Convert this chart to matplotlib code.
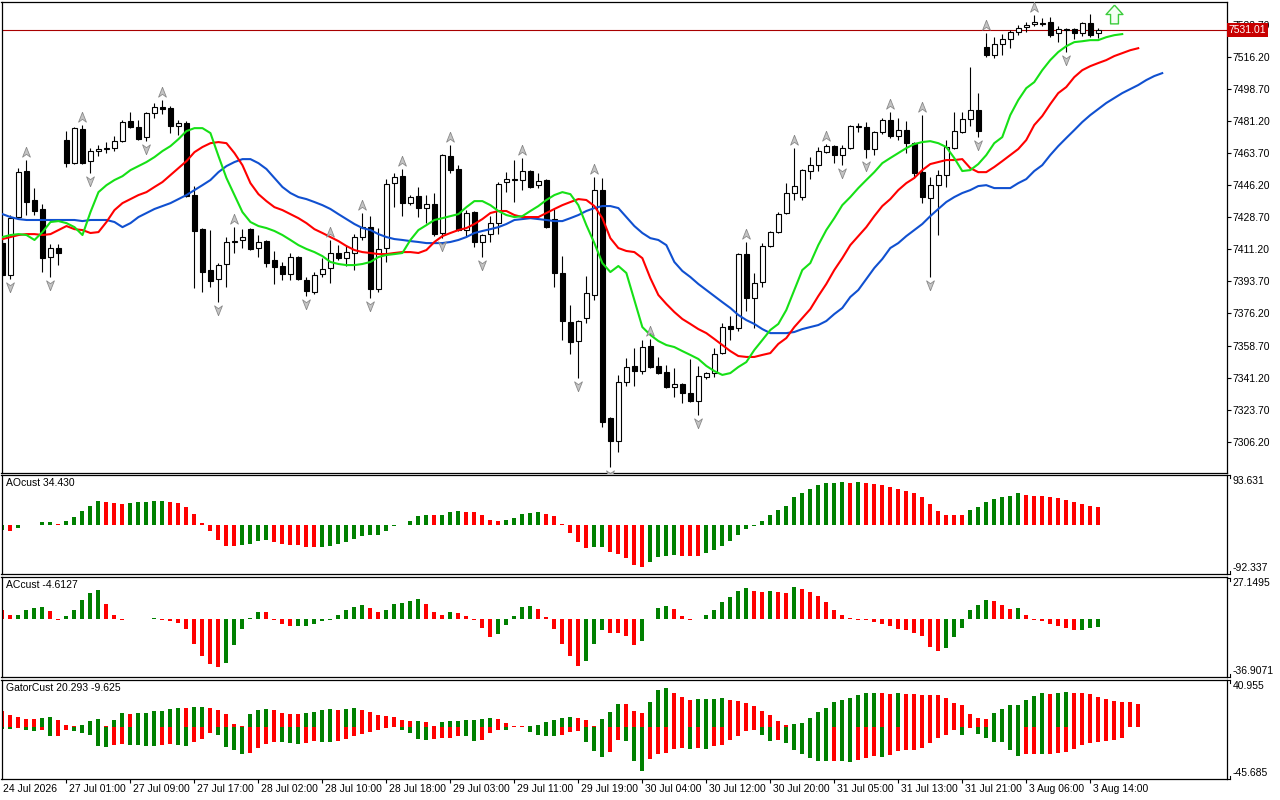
import numpy as np
import matplotlib.pyplot as plt
from matplotlib.path import Path

plt.rcParams['font.family'] = ['Liberation Sans', 'DejaVu Sans']

# hourly candles, 24 Jul 16:00 .. 3 Aug 15:00
opens = [7414.6, 7397.2, 7428.8, 7453.9, 7438.1, 7433.2, 7407.0, 7411.9, 7470.8, 7458.2,
         7476.8, 7459.3, 7464.8, 7465.9, 7466.4, 7470.2, 7481.1, 7477.9, 7472.4, 7485.5,
         7488.8, 7488.2, 7478.4, 7480.0, 7440.8, 7422.2, 7399.9, 7395.0, 7403.2, 7415.2,
         7416.3, 7422.2, 7411.9, 7415.7, 7405.4, 7402.1, 7397.7, 7407.0, 7394.5, 7387.9,
         7397.7, 7401.0, 7409.2, 7406.4, 7409.2, 7417.9, 7423.3, 7389.5, 7411.9, 7447.3,
         7451.1, 7436.4, 7440.2, 7433.7, 7435.9, 7420.1, 7462.1, 7455.0, 7421.7, 7431.5,
         7415.2, 7419.5, 7425.5, 7447.9, 7449.0, 7449.0, 7453.9, 7446.2, 7449.0, 7428.0,
         7398.3, 7371.5, 7361.2, 7373.7, 7386.3, 7443.5, 7319.2, 7306.7, 7338.8, 7347.6,
         7344.8, 7358.5, 7347.6, 7344.3, 7336.1, 7337.7, 7332.8, 7328.5, 7341.6, 7343.7,
         7354.6, 7369.4, 7368.3, 7408.6, 7384.6, 7393.4, 7413.0, 7420.6, 7431.0, 7441.9,
         7439.7, 7453.9, 7457.1, 7464.2, 7467.5, 7462.6, 7466.4, 7477.8, 7477.9, 7465.9,
         7475.1, 7481.7, 7473.0, 7476.2, 7469.1, 7453.3, 7439.2, 7446.2, 7451.7, 7466.4,
         7475.1, 7482.2, 7487.1, 7521.5, 7517.1, 7523.1, 7525.8, 7529.7, 7532.4, 7534.0,
         7534.6, 7535.1, 7529.1, 7531.3, 7531.3, 7529.1, 7534.6, 7529.1]
highs = [7416.3, 7429.9, 7455.5, 7459.9, 7444.6, 7435.9, 7414.1, 7414.1, 7475.7, 7477.9,
         7479.0, 7466.4, 7468.0, 7469.7, 7473.0, 7481.7, 7486.0, 7481.7, 7486.0, 7491.0,
         7492.6, 7489.3, 7481.7, 7481.1, 7445.7, 7422.8, 7421.7, 7403.7, 7417.9, 7423.3,
         7422.2, 7422.8, 7419.0, 7416.3, 7410.3, 7404.3, 7409.2, 7407.5, 7396.1, 7398.8,
         7406.4, 7416.3, 7413.5, 7413.5, 7419.5, 7431.0, 7429.3, 7422.8, 7449.5, 7452.8,
         7455.0, 7440.8, 7445.2, 7440.8, 7441.9, 7463.1, 7468.0, 7457.1, 7432.6, 7432.1,
         7419.5, 7429.3, 7447.9, 7453.3, 7459.9, 7461.0, 7454.4, 7452.8, 7449.5, 7433.2,
         7407.5, 7380.8, 7372.6, 7396.6, 7450.6, 7450.1, 7319.7, 7342.7, 7351.9, 7357.4,
         7361.7, 7362.3, 7352.5, 7348.1, 7346.5, 7338.3, 7351.4, 7347.6, 7344.3, 7357.4,
         7371.0, 7374.8, 7409.2, 7415.2, 7398.3, 7414.6, 7421.2, 7431.5, 7447.3, 7466.4,
         7455.0, 7461.5, 7467.0, 7468.6, 7468.0, 7468.0, 7479.0, 7480.0, 7480.6, 7475.7,
         7482.8, 7486.0, 7482.8, 7481.1, 7469.7, 7484.4, 7450.6, 7454.4, 7470.8, 7486.0,
         7486.0, 7510.6, 7496.4, 7529.1, 7526.9, 7528.6, 7530.7, 7533.5, 7535.1, 7538.9,
         7537.3, 7537.8, 7532.9, 7531.8, 7531.8, 7535.1, 7539.5, 7531.8]
lows = [7396.6, 7395.0, 7427.7, 7429.9, 7429.9, 7398.8, 7396.1, 7402.6, 7456.1, 7457.7,
        7457.7, 7452.8, 7462.1, 7463.7, 7464.8, 7469.7, 7477.3, 7470.8, 7470.2, 7482.8,
        7484.9, 7474.6, 7473.5, 7439.7, 7390.1, 7387.9, 7390.6, 7382.4, 7390.6, 7409.2,
        7411.9, 7410.8, 7407.0, 7401.5, 7392.3, 7394.5, 7394.5, 7394.5, 7385.7, 7386.8,
        7396.1, 7392.8, 7405.4, 7402.1, 7399.9, 7416.3, 7384.6, 7387.9, 7404.3, 7434.2,
        7429.3, 7435.3, 7428.8, 7425.5, 7418.4, 7417.3, 7452.8, 7421.2, 7417.9, 7412.4,
        7407.0, 7415.2, 7419.5, 7442.4, 7437.0, 7443.5, 7444.6, 7444.6, 7422.8, 7390.6,
        7361.7, 7354.1, 7341.0, 7371.0, 7383.5, 7314.3, 7292.5, 7300.7, 7336.6, 7336.6,
        7343.2, 7346.5, 7343.2, 7335.6, 7330.7, 7327.4, 7327.9, 7320.8, 7340.5, 7341.6,
        7354.1, 7361.7, 7366.6, 7377.6, 7368.3, 7390.6, 7412.4, 7420.1, 7430.4, 7438.1,
        7438.1, 7449.5, 7453.9, 7463.7, 7458.2, 7457.1, 7465.9, 7475.1, 7461.0, 7462.6,
        7474.0, 7471.9, 7470.8, 7463.7, 7450.1, 7436.4, 7396.1, 7419.0, 7445.2, 7465.9,
        7474.6, 7478.4, 7472.4, 7516.0, 7515.5, 7517.1, 7520.9, 7528.0, 7529.7, 7532.9,
        7532.9, 7526.9, 7524.2, 7518.8, 7525.8, 7527.5, 7526.9, 7526.4]
closes = [7397.2, 7428.2, 7453.3, 7437.0, 7432.1, 7406.4, 7411.9, 7409.2, 7458.2, 7477.3,
          7458.2, 7464.8, 7465.9, 7466.4, 7470.2, 7480.6, 7477.9, 7471.3, 7485.5, 7488.8,
          7487.7, 7478.4, 7480.0, 7440.2, 7421.2, 7398.8, 7393.9, 7402.6, 7415.2, 7415.7,
          7417.9, 7411.4, 7415.2, 7403.7, 7401.5, 7397.7, 7407.0, 7395.0, 7388.4, 7397.2,
          7400.4, 7409.2, 7406.4, 7409.7, 7417.9, 7423.3, 7389.5, 7411.4, 7446.8, 7450.6,
          7436.4, 7439.7, 7433.7, 7435.9, 7419.5, 7462.6, 7454.4, 7421.7, 7431.0, 7415.2,
          7419.0, 7425.5, 7446.8, 7449.5, 7449.3, 7453.9, 7445.2, 7448.4, 7423.3, 7398.3,
          7372.1, 7360.6, 7372.1, 7387.3, 7443.5, 7317.0, 7306.7, 7338.8, 7347.0, 7344.8,
          7357.9, 7347.0, 7343.7, 7336.1, 7337.7, 7332.8, 7328.5, 7342.1, 7343.7, 7354.1,
          7368.8, 7367.7, 7408.6, 7384.6, 7392.8, 7413.0, 7420.6, 7430.4, 7441.9, 7445.7,
          7454.4, 7457.1, 7464.8, 7467.5, 7462.6, 7466.4, 7478.4, 7478.2, 7465.9, 7475.1,
          7481.7, 7473.0, 7476.2, 7469.1, 7452.8, 7439.7, 7446.2, 7451.7, 7467.0, 7475.7,
          7482.2, 7487.1, 7475.7, 7517.1, 7523.1, 7525.8, 7529.7, 7531.8, 7533.5, 7535.1,
          7534.0, 7528.0, 7531.3, 7530.7, 7529.1, 7534.6, 7528.0, 7531.01]
last_price = 7531.01

# alligator lines (already shifted forward as drawn)
lips = [7417.9, 7419.0, 7419.5, 7419.0, 7416.3, 7420.6, 7426.1, 7426.6, 7425.5, 7423.3,
        7419.0, 7431.5, 7442.4, 7446.2, 7449.0, 7451.1, 7454.4, 7456.6, 7458.8, 7461.5,
        7464.8, 7467.5, 7471.3, 7475.7, 7477.3, 7477.3, 7474.6, 7462.1, 7450.1, 7440.8,
        7431.5, 7426.1, 7423.9, 7422.8, 7421.2, 7419.0, 7416.3, 7413.5, 7411.4, 7409.7,
        7407.5, 7404.3, 7403.2, 7402.6, 7402.6, 7403.2, 7404.3, 7407.0, 7408.1, 7408.6,
        7409.2, 7416.3, 7421.7, 7424.4, 7427.2, 7428.2, 7429.3, 7430.4, 7434.2, 7437.5,
        7437.5, 7435.3, 7432.1, 7429.9, 7428.8, 7429.3, 7432.1, 7434.8, 7438.1, 7440.8,
        7442.4, 7441.3, 7435.3, 7424.4, 7414.6, 7403.7, 7398.8, 7402.1, 7398.3, 7383.5,
        7368.8, 7364.5, 7361.2, 7359.0, 7357.9, 7355.7, 7353.6, 7351.4, 7347.6, 7344.8,
        7342.7, 7343.7, 7347.0, 7349.7, 7356.3, 7361.7, 7367.2, 7370.5, 7378.1, 7389.0,
        7399.9, 7403.7, 7413.5, 7421.7, 7428.2, 7435.3, 7439.7, 7444.6, 7449.0, 7453.3,
        7458.2, 7461.0, 7463.7, 7466.4, 7468.6, 7469.7, 7470.2, 7469.1, 7467.0, 7461.0,
        7453.9, 7454.4, 7457.7, 7462.6, 7469.1, 7472.4, 7484.4, 7492.6, 7499.1, 7502.4,
        7508.9, 7514.4, 7518.8, 7522.0, 7524.2, 7524.7, 7525.3, 7525.3, 7526.9, 7528.0,
        7528.6]
teeth = [7416.8, 7417.9, 7419.0, 7419.5, 7419.5, 7419.0, 7419.5, 7421.7, 7423.9, 7422.2,
         7421.7, 7420.1, 7420.6, 7426.1, 7432.6, 7436.4, 7438.6, 7440.8, 7442.4, 7445.2,
         7447.9, 7451.7, 7455.5, 7459.3, 7464.2, 7467.0, 7469.1, 7469.7, 7469.1, 7463.7,
         7457.1, 7447.3, 7441.3, 7437.5, 7434.2, 7432.6, 7430.4, 7428.2, 7425.5, 7422.2,
         7420.1, 7417.9, 7415.7, 7413.0, 7410.8, 7409.7, 7409.2, 7408.6, 7408.6, 7409.2,
         7409.7, 7409.7, 7409.2, 7410.8, 7415.2, 7418.4, 7420.1, 7421.7, 7422.8, 7425.0,
         7427.7, 7431.0, 7432.1, 7432.1, 7429.9, 7428.8, 7428.8, 7428.8, 7431.0, 7433.2,
         7435.3, 7437.0, 7438.6, 7438.1, 7434.8, 7428.2, 7417.3, 7411.9, 7410.3, 7409.7,
         7406.4, 7395.5, 7386.3, 7381.4, 7377.0, 7373.2, 7370.5, 7367.7, 7365.5, 7362.3,
         7359.0, 7355.7, 7353.0, 7352.5, 7352.5, 7353.6, 7354.6, 7359.6, 7362.8, 7368.8,
         7373.7, 7378.6, 7385.7, 7392.3, 7399.9, 7406.4, 7413.5, 7418.4, 7423.3, 7429.3,
         7434.8, 7438.6, 7443.5, 7447.3, 7450.1, 7454.4, 7457.7, 7458.8, 7459.9, 7459.9,
         7460.4, 7455.5, 7453.3, 7453.3, 7456.1, 7459.3, 7462.6, 7465.9, 7470.8, 7479.0,
         7483.9, 7490.4, 7496.4, 7499.7, 7505.1, 7508.9, 7511.1, 7512.8, 7514.4, 7516.6,
         7518.2, 7519.8, 7520.9]
jaw = [7430.4, 7428.8, 7427.7, 7427.2, 7427.2, 7427.2, 7427.2, 7427.2, 7427.2, 7427.2,
       7426.6, 7427.2, 7427.2, 7427.2, 7426.1, 7423.3, 7425.5, 7428.8, 7431.0, 7433.2,
       7434.8, 7436.4, 7438.6, 7440.8, 7443.5, 7446.2, 7449.0, 7453.3, 7456.6, 7458.8,
       7460.4, 7460.4, 7458.2, 7455.0, 7450.1, 7445.2, 7441.9, 7439.7, 7438.6, 7437.0,
       7435.3, 7433.2, 7430.4, 7427.7, 7425.0, 7422.8, 7421.7, 7419.5, 7417.9, 7416.8,
       7416.3, 7415.7, 7415.2, 7414.6, 7414.6, 7414.6, 7415.2, 7416.3, 7417.9, 7420.1,
       7421.2, 7422.2, 7423.3, 7425.0, 7427.2, 7427.7, 7428.2, 7427.7, 7427.2, 7426.6,
       7426.6, 7428.2, 7429.9, 7432.1, 7433.7, 7434.8, 7434.8, 7433.7, 7428.8, 7423.9,
       7420.1, 7417.3, 7416.3, 7413.5, 7404.3, 7399.4, 7396.1, 7392.3, 7389.0, 7385.7,
       7382.4, 7379.2, 7375.4, 7372.6, 7370.5, 7367.7, 7365.5, 7365.5, 7365.5, 7366.1,
       7367.7, 7368.8, 7369.9, 7372.1, 7375.9, 7379.2, 7385.2, 7389.0, 7395.0, 7401.0,
       7405.9, 7411.9, 7414.6, 7418.4, 7421.7, 7425.0, 7429.3, 7433.2, 7437.0, 7439.7,
       7441.9, 7443.5, 7445.7, 7446.2, 7444.6, 7444.6, 7444.6, 7447.3, 7449.5, 7453.9,
       7457.1, 7462.6, 7467.5, 7471.9, 7476.2, 7480.6, 7484.4, 7487.7, 7491.0, 7493.7,
       7496.4, 7498.6, 7500.8, 7503.5, 7505.7, 7507.3]

up_fractals = [3, 10, 20, 29, 41, 45, 50, 56, 65, 74, 81, 93, 99, 103, 111, 115, 123, 129]
down_fractals = [1, 6, 11, 18, 27, 38, 46, 55, 60, 72, 76, 87, 105, 108, 116, 122, 133]
signal_bar = 139
signal_price = 7539.7

ao = [-9.6, -11.5, -6.4, -0.6, 0.2, 5.1, 5.7, 1.3, 7.7, 14.0,
      25.5, 35.1, 44.0, 42.1, 40.2, 39.5, 41.4, 42.1, 42.7, 44.0,
      44.6, 42.1, 40.2, 34.4, 21.0, 3.2, -10.8, -28.1, -39.5, -40.2,
      -37.6, -36.3, -30.0, -28.1, -32.5, -36.3, -37.6, -38.3, -41.4, -42.1,
      -41.4, -39.5, -35.7, -31.9, -26.8, -21.0, -19.1, -18.5, -12.1, -2.6,
      -0.6, 7.7, 15.9, 19.1, 17.9, 19.2, 24.9, 25.5, 24.9, 24.2,
      17.9, 8.3, 6.4, 8.3, 12.8, 19.8, 23.0, 24.9, 21.0, 15.9,
      1.9, -15.3, -31.9, -44.0, -41.4, -40.8, -51.0, -55.5, -62.5, -74.6,
      -78.4, -68.9, -60.6, -59.3, -57.4, -58.0, -58.7, -59.3, -53.6, -47.8,
      -40.2, -30.6, -19.1, -7.7, -1.3, 7.7, 19.1, 28.7, 36.3, 51.6,
      59.3, 66.9, 74.6, 78.4, 79.1, 79.7, 79.1, 79.8, 79.1, 76.5,
      74.6, 70.8, 66.9, 63.1, 59.3, 51.6, 38.3, 26.8, 19.1, 18.5,
      17.9, 28.7, 34.4, 42.1, 47.8, 51.6, 53.6, 59.3, 55.5, 54.8,
      53.6, 51.6, 49.7, 45.9, 42.1, 38.3, 36.3, 34.43]
ac = [5.7, 2.7, 3.1, 6.3, 7.5, 7.8, 5.2, -0.4, 1.9, 6.3,
      12.6, 17.0, 18.9, 10.1, 3.1, -0.2, 0.1, 0.2, 0.3, 0.8,
      -0.2, -1.0, -2.5, -6.3, -15.7, -23.7, -28.3, -30.8, -27.7, -16.4,
      -6.3, 0.6, 5.0, 4.8, -0.4, -3.1, -4.4, -4.2, -4.0, -3.1,
      -1.0, -0.2, 3.1, 5.7, 8.2, 9.4, 7.5, 5.0, 6.3, 10.1,
      10.7, 12.0, 13.2, 10.1, 5.0, 2.5, 5.0, 4.4, 1.9, -0.4,
      -5.7, -11.3, -9.4, -3.8, 1.9, 8.2, 8.8, 6.9, 1.3, -6.3,
      -15.7, -23.7, -29.6, -26.8, -15.7, -6.9, -8.8, -9.0, -10.7, -16.4,
      -13.8, 0.2, 7.5, 8.8, 6.9, 1.9, -0.2, 0.0, 2.5, 6.3,
      11.3, 14.5, 18.2, 20.1, 18.2, 17.6, 18.3, 17.6, 17.0, 20.8,
      19.5, 17.6, 15.1, 11.3, 6.3, 3.1, 0.6, -0.2, -0.3, -1.7,
      -3.1, -4.4, -6.3, -6.9, -8.8, -10.7, -17.6, -20.1, -18.2, -11.3,
      -5.7, 5.7, 9.4, 12.6, 12.0, 9.4, 6.9, 7.5, 2.5, -0.4,
      -1.3, -3.1, -4.4, -5.7, -6.9, -6.7, -5.7, -4.6127]
gator_up = [14.0, 10.7, 8.6, 7.1, 6.8, 7.7, 8.3, 6.0, 1.8, 0.9,
            1.2, 5.1, 6.8, 0.6, 6.0, 12.2, 11.3, 12.2, 12.5, 13.4,
            14.0, 15.8, 16.7, 16.4, 17.0, 17.6, 16.7, 14.9, 11.3, 2.4,
            0.6, 11.3, 14.9, 15.8, 14.9, 12.2, 11.3, 11.0, 12.2, 13.1,
            14.9, 15.8, 14.9, 15.8, 16.1, 14.9, 13.1, 10.4, 9.5, 8.6,
            6.0, 5.1, 5.4, 4.2, 0.6, 3.9, 4.8, 5.1, 5.7, 6.0,
            6.5, 7.7, 6.8, 3.3, 0.6, 0.3, 0.6, 1.2, 4.2, 6.0,
            7.7, 8.3, 8.0, 6.0, 0.9, 6.5, 13.1, 20.2, 19.6, 14.0,
            12.2, 22.0, 31.8, 33.6, 30.0, 26.5, 23.8, 24.1, 24.4, 24.7,
            25.6, 23.8, 22.9, 21.1, 18.4, 14.0, 10.4, 5.1, 1.2, 2.4,
            3.3, 7.7, 13.1, 16.7, 22.0, 23.8, 25.6, 27.7, 29.2, 29.8,
            29.2, 28.9, 29.8, 28.9, 28.3, 28.0, 27.7, 27.4, 25.6, 21.1,
            18.7, 11.6, 7.7, 6.8, 12.5, 15.8, 18.7, 19.3, 23.8, 26.8,
            29.2, 28.9, 30.0, 30.3, 30.0, 29.8, 28.3, 26.5, 24.7, 22.9,
            22.0, 21.7, 20.293]
gator_down = [-2.1, -2.2, -0.9, -3.0, -3.9, -2.7, -8.0, -7.7, -3.0, -3.9,
              -5.7, -7.1, -17.0, -17.9, -16.1, -15.2, -15.5, -15.8, -16.4, -17.0,
              -15.5, -15.2, -16.1, -16.7, -13.4, -10.4, -5.7, -7.1, -17.9, -20.2,
              -24.1, -22.9, -18.7, -15.2, -13.4, -13.7, -14.0, -14.9, -14.0, -12.8,
              -13.1, -13.7, -12.5, -10.4, -8.3, -6.5, -4.8, -2.7, -1.2, -0.6,
              -2.7, -5.1, -11.0, -11.9, -11.0, -10.1, -9.8, -8.0, -8.3, -12.8,
              -11.9, -5.1, -2.7, -3.0, -0.3, -0.6, -4.5, -6.8, -7.7, -8.3,
              -7.4, -4.5, -3.6, -13.4, -21.4, -26.8, -22.3, -11.3, -12.2, -29.8,
              -38.7, -28.3, -23.8, -22.6, -19.3, -18.7, -19.0, -18.7, -19.0, -17.0,
              -15.8, -11.9, -8.3, -3.6, -3.0, -7.4, -12.5, -11.9, -14.0, -19.9,
              -23.8, -27.4, -29.5, -30.0, -29.8, -30.0, -31.2, -28.9, -27.7, -25.3,
              -26.2, -24.7, -21.1, -20.2, -19.9, -18.4, -14.0, -10.1, -7.4, -2.7,
              -6.8, -0.9, -6.0, -10.1, -13.1, -13.4, -20.2, -25.6, -23.8, -23.5,
              -23.8, -23.5, -22.9, -22.0, -19.6, -15.8, -14.0, -13.1, -12.8, -11.6,
              -9.625]

price_ticks = [7306.2, 7323.7, 7341.2, 7358.7, 7376.2, 7393.7, 7411.2, 7428.7,
               7446.2, 7463.7, 7481.2, 7498.7, 7516.2, 7533.7]
time_ticks = [8, 16, 24, 32, 40, 48, 56, 64, 72, 80, 88, 96, 104, 112, 120, 128, 136]
time_labels = ['27 Jul 01:00', '27 Jul 09:00', '27 Jul 17:00', '28 Jul 02:00',
               '28 Jul 10:00', '28 Jul 18:00', '29 Jul 03:00', '29 Jul 11:00',
               '29 Jul 19:00', '30 Jul 04:00', '30 Jul 12:00', '30 Jul 20:00',
               '31 Jul 05:00', '31 Jul 13:00', '31 Jul 21:00', '3 Aug 06:00',
               '3 Aug 14:00']
start_label = '24 Jul 2026'

GREEN = '#008000'
RED = '#ff0000'
FS = 7.5


def bar_colors(values, first, use_abs=False):
    cols = [first]
    for prev, cur in zip(values[:-1], values[1:]):
        a, b = (abs(prev), abs(cur)) if use_abs else (prev, cur)
        if b > a:
            cols.append(GREEN)
        elif b < a:
            cols.append(RED)
        else:
            cols.append(cols[-1])
    return cols


def side_labels(ax, top, bottom):
    # max / min of the sub-window, with the little bracket ticks
    ax.text(1.0045, 0.935, top, transform=ax.transAxes, fontsize=FS,
            ha='left', va='center', clip_on=False)
    ax.text(1.0045, 0.06, bottom, transform=ax.transAxes, fontsize=FS,
            ha='left', va='center', clip_on=False)
    for yy, dy in ((0.995, -0.03), (0.005, 0.03)):
        ax.plot([1.0, 1.0025], [yy, yy], transform=ax.transAxes, color='black',
                lw=0.8, clip_on=False)
        ax.plot([1.0025, 1.0025], [yy, yy + dy], transform=ax.transAxes,
                color='black', lw=0.8, clip_on=False)


fig = plt.figure(figsize=(12.8, 8), dpi=100)
left, width = 1.5 / 1280, 1225.5 / 1280
ax = fig.add_axes([left, 1 - 473 / 800, width, 471 / 800])
ax_ao = fig.add_axes([left, 1 - 574 / 800, width, 99 / 800])
ax_ac = fig.add_axes([left, 1 - 677 / 800, width, 100 / 800])
ax_g = fig.add_axes([left, 1 - 779 / 800, width, 99 / 800])

xlim = (-0.125, 153.1)
for a in (ax, ax_ao, ax_ac, ax_g):
    a.set_xlim(*xlim)
    a.set_xticks([])
    for s in a.spines.values():
        s.set_linewidth(0.9)
        s.set_color('black')

# ---- main price panel ----
x = np.arange(len(opens))
o = np.array(opens)
c = np.array(closes)
h = np.array(highs)
l = np.array(lows)
ax.vlines(x, l, h, color='black', lw=0.8, zorder=2)
bull = c >= o
body_bottom = np.minimum(o, c)
body_h = np.maximum(np.abs(c - o), 0.35)
ax.bar(x[bull], body_h[bull], bottom=body_bottom[bull], width=0.62,
       facecolor='white', edgecolor='black', lw=0.8, zorder=3)
ax.bar(x[~bull], body_h[~bull], bottom=body_bottom[~bull], width=0.62,
       facecolor='black', edgecolor='black', lw=0.8, zorder=3)

ax.plot(np.arange(len(jaw)), jaw, color='#1050d0', lw=1.5, zorder=4)
ax.plot(np.arange(len(teeth)), teeth, color='#ff0000', lw=1.5, zorder=4)
ax.plot(np.arange(len(lips)), lips, color='#16e016', lw=1.5, zorder=4)

arrow_up = Path([(0, 1), (0.75, -0.9), (0, -0.35), (-0.75, -0.9), (0, 1)])
arrow_dn = Path([(0, -1), (0.75, 0.9), (0, 0.35), (-0.75, 0.9), (0, -1)])
ax.plot(up_fractals, h[up_fractals] + 4.6, ls='none', marker=arrow_up, ms=7.5,
        mfc='#c4c4c4', mec='#8a8a8a', mew=0.6, zorder=5)
ax.plot(down_fractals, l[down_fractals] - 4.2, ls='none', marker=arrow_dn, ms=7.5,
        mfc='#c4c4c4', mec='#8a8a8a', mew=0.6, zorder=5)

block_arrow = Path([(0, 1), (0.9, 0), (0.42, 0), (0.42, -1), (-0.42, -1),
                    (-0.42, 0), (-0.9, 0), (0, 1)])
ax.plot([signal_bar], [signal_price], marker=block_arrow, ms=13.5, ls='none',
        mfc='#f4fff4', mec='#3ccc3c', mew=1.0, zorder=6, clip_on=False)

ax.axhline(last_price, color='#a80000', lw=0.8, zorder=1)
ax.set_ylim(7289.2, 7546.1)
ax.yaxis.tick_right()
ax.set_yticks(price_ticks)
ax.set_yticklabels([f'{p:.2f}' for p in price_ticks])
ax.tick_params(axis='y', length=3, width=0.8, labelsize=FS, pad=1)
# bid label drawn over the top price label, as in the terminal
ax.text(1.0015, last_price, f'{last_price:.2f}', transform=ax.get_yaxis_transform(),
        ha='left', va='center', color='white', fontsize=FS, zorder=10,
        bbox=dict(boxstyle='square,pad=0.18', fc='#c80000', ec='none'),
        clip_on=False)

# ---- AO ----
ax_ao.bar(np.arange(len(ao)), ao, width=0.5, color=bar_colors(ao, GREEN))
ax_ao.set_ylim(-92.337, 93.631)
ax_ao.set_yticks([])
ax_ao.text(0.0035, 0.965, f'AOcust {ao[-1]:.3f}', transform=ax_ao.transAxes,
           fontsize=FS, va='top', ha='left')
side_labels(ax_ao, '93.631', '-92.337')

# ---- AC ----
ax_ac.bar(np.arange(len(ac)), ac, width=0.5, color=bar_colors(ac, RED))
ax_ac.set_ylim(-36.9071, 27.1495)
ax_ac.set_yticks([])
ax_ac.text(0.0035, 0.965, f'ACcust {ac[-1]:.4f}', transform=ax_ac.transAxes,
           fontsize=FS, va='top', ha='left')
side_labels(ax_ac, '27.1495', '-36.9071')

# ---- Gator ----
ax_g.bar(np.arange(len(gator_up)), gator_up, width=0.5,
         color=bar_colors(gator_up, RED))
ax_g.bar(np.arange(len(gator_down)), gator_down, width=0.5,
         color=bar_colors(gator_down, GREEN, use_abs=True))
ax_g.set_ylim(-45.685, 40.955)
ax_g.set_yticks([])
ax_g.text(0.0035, 0.965, f'GatorCust {gator_up[-1]:.3f} {gator_down[-1]:.3f}',
          transform=ax_g.transAxes, fontsize=FS, va='top', ha='left')
side_labels(ax_g, '40.955', '-45.685')

ax_g.set_xticks(time_ticks)
ax_g.set_xticklabels([])
ax_g.tick_params(axis='x', length=3, width=0.8, direction='out')
trans = ax_g.get_xaxis_transform()
ax_g.text(0.1, -0.05, start_label, transform=trans, fontsize=FS,
          ha='left', va='top', clip_on=False)
for pos, lab in zip(time_ticks, time_labels):
    ax_g.text(pos + 0.3, -0.05, lab, transform=trans, fontsize=FS,
              ha='left', va='top', clip_on=False)

fig.savefig('out.png', dpi=100, facecolor='white')
